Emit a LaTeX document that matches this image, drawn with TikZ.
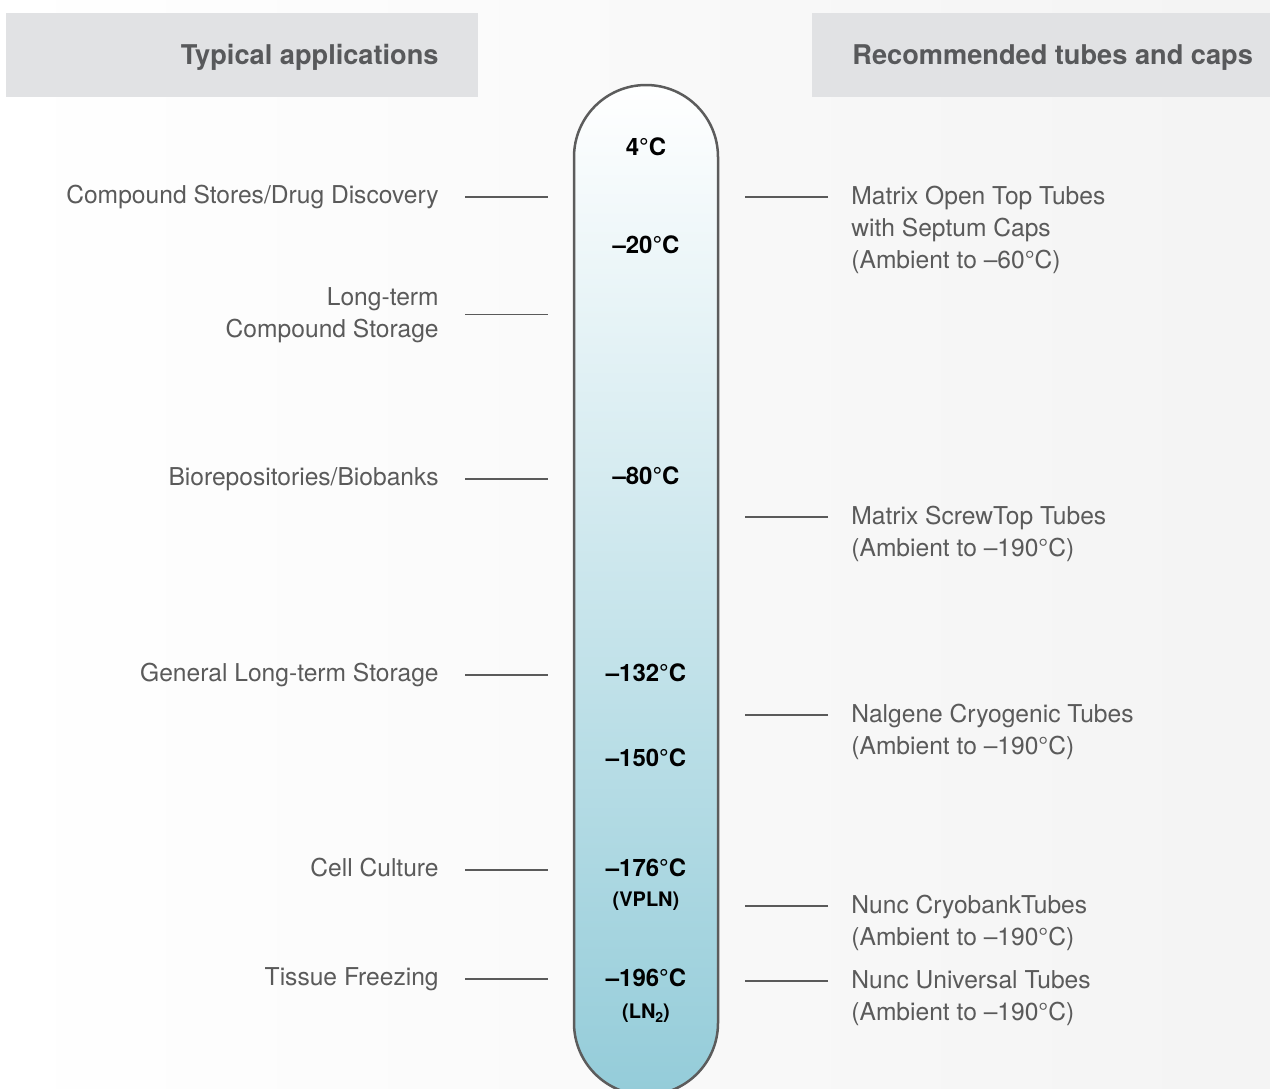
\documentclass[tikz,border=0pt]{standalone}
\usepackage{fontspec}
\setmainfont{TeX Gyre Heros}
\usetikzlibrary{positioning}
\definecolor{headgray}{HTML}{E1E2E4}
\definecolor{headtext}{HTML}{58595B}
\definecolor{textgray}{HTML}{5A5A5A}
\definecolor{rimgray}{HTML}{5C5C5C}
\definecolor{tubeblue}{HTML}{94CCD9}

\begin{document}
\begin{tikzpicture}[x=0.5pt,y=-0.5pt,
    head/.style={fill=headgray, draw=none},
    headtxt/.style={inner sep=0pt, text=headtext, font=\fontsize{13.6}{16}\bfseries\selectfont},
    app/.style={anchor=base east, inner sep=0pt, align=right, text=textgray, font=\fontsize{12.3}{16}\selectfont},
    tube/.style={anchor=base west, inner sep=0pt, align=left, text=textgray, font=\fontsize{12.3}{16}\selectfont},
    temp/.style={anchor=base, inner sep=0pt, align=center, font=\fontsize{12}{15}\bfseries\selectfont},
    leader/.style={draw=textgray, line width=0.6pt}]
    % page and background
    \useasboundingbox (0,0) rectangle (1270,1088);
    \clip (0,0) rectangle (1270,1088);
    \shade[left color=white, right color=gray!9] (0,0) rectangle (1270,1088);

    % column headers
    \fill[head] (6,13) rectangle (478,97);
    \fill[head] (812,13) rectangle (1270,97);
    \node[headtxt, anchor=base east] (headL) at (439,64) {Typical applications};
    \node[headtxt, anchor=base west] (headR) at (852,64) {Recommended tubes and caps};

    % the thermometer
    \shade[top color=white, bottom color=tubeblue, draw=rimgray, line width=1.25pt]
        (574,1023) -- (574,157) arc[start angle=180, end angle=360, radius=72]
        -- (718,1023) arc[start angle=0, end angle=180, radius=72] -- cycle;

    % temperatures
    \node[temp] (t4) at (646,155) {4°C};
    \node[temp] (t20) at (646,253) {–20°C};
    \node[temp] (t80) at (646,484) {–80°C};
    \node[temp] (t132) at (646,681) {–132°C};
    \node[temp] (t150) at (646,766) {–150°C};
    \node[temp] (t176) at (646,876) {–176°C};
    \node[temp, font=\fontsize{10}{12}\bfseries\selectfont] (vpln) at (646,906) {(VPLN)};
    \node[temp] (t196) at (646,986) {–196°C};
    \node[temp, font=\fontsize{10}{12}\bfseries\selectfont] (ln2) at (646,1018) {(LN\raisebox{-0.45ex}{\fontsize{7}{8}\selectfont 2})};

    % typical applications
    \node[app] (app1) at (439,203) {Compound Stores/Drug Discovery};
    \node[app] (app2) at (439,337) {Long-term\\Compound Storage};
    \node[app] (app3) at (439,485) {Biorepositories/Biobanks};
    \node[app] (app4) at (439,681) {General Long-term Storage};
    \node[app] (app5) at (439,876) {Cell Culture};
    \node[app] (app6) at (439,985) {Tissue Freezing};

    \draw[leader] (app1.base east) ++(26,-6) -- ++(83,0);
    \draw[leader] (app2.east) ++(26,0) -- ++(83,0);
    \draw[leader] (app3.base east) ++(26,-6) -- ++(83,0);
    \draw[leader] (app4.base east) ++(26,-6) -- ++(83,0);
    \draw[leader] (app5.base east) ++(26,-6) -- ++(83,0);
    \draw[leader] (app6.base east) ++(26,-6) -- ++(83,0);

    % recommended tubes (base = last line)
    \node[tube] (tube1) at (851,268) {Matrix Open Top Tubes\\with Septum Caps\\(Ambient to –60°C)};
    \node[tube] (tube2) at (851,556) {Matrix ScrewTop Tubes\\(Ambient to –190°C)};
    \node[tube] (tube3) at (851,754) {Nalgene Cryogenic Tubes\\(Ambient to –190°C)};
    \node[tube] (tube4) at (851,945) {Nunc CryobankTubes\\(Ambient to –190°C)};
    \node[tube] (tube5) at (851,1020) {Nunc Universal Tubes\\(Ambient to –190°C)};

    \draw[leader] (tube1.base west) ++(-23,-71) -- ++(-83,0);
    \draw[leader] (tube2.base west) ++(-23,-39) -- ++(-83,0);
    \draw[leader] (tube3.base west) ++(-23,-39) -- ++(-83,0);
    \draw[leader] (tube4.base west) ++(-23,-39) -- ++(-83,0);
    \draw[leader] (tube5.base west) ++(-23,-39) -- ++(-83,0);
\end{tikzpicture}
\end{document}
